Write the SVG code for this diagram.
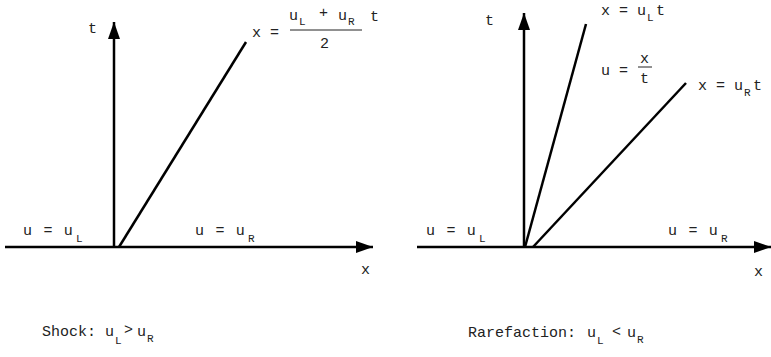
<svg xmlns="http://www.w3.org/2000/svg" width="771" height="357" viewBox="0 0 771 357">
<style>
.ln{stroke:#000;stroke-width:2.5;fill:none}
.ax{stroke:#000;stroke-width:2.5;fill:none;marker-end:url(#ah)}
text{font-family:"Liberation Mono","DejaVu Sans Mono",monospace;font-size:15px;fill:#222}
.sp{letter-spacing:1.2px}
.sub{font-size:11px}
.bar{stroke:#222;stroke-width:1}
</style>
<defs>
<marker id="ah" markerUnits="userSpaceOnUse" markerWidth="18" markerHeight="14" refX="17" refY="6" orient="auto">
<path d="M0,0 L17,6 L0,12 Z" fill="#000"/>
</marker>
</defs>
<rect width="771" height="357" fill="#fff"/>
<g id="connectors">
<line class="ax" x1="114" y1="247" x2="114" y2="22"/>
<line class="ax" x1="5" y1="247" x2="373" y2="247"/>
<line class="ln" x1="119" y1="247" x2="246" y2="42"/>
<line class="ax" x1="524" y1="247" x2="524" y2="13"/>
<line class="ax" x1="417" y1="247" x2="771" y2="247"/>
<line class="ln" x1="525" y1="247" x2="586" y2="24"/>
<line class="ln" x1="533" y1="247" x2="686" y2="83"/>
</g>
<g id="shock-labels">
<text x="88" y="33">t</text>
<text x="252" y="37">x =</text>
<text x="289" y="20">u</text><text class="sub" x="299" y="25">L</text>
<text x="319" y="17">+</text>
<text x="338" y="20">u</text><text class="sub" x="348" y="25">R</text>
<text x="370" y="21">t</text>
<line class="bar" x1="290" y1="30" x2="362" y2="30"/>
<text x="320" y="48">2</text>
<text class="sp" x="23" y="235">u = u</text><text class="sub" x="76" y="242">L</text>
<text class="sp" x="195" y="235">u = u</text><text class="sub" x="248" y="242">R</text>
<text x="361" y="274">x</text>
<text x="42" y="336">Shock:</text>
<text x="105" y="336">u</text><text class="sub" x="115" y="344">L</text>
<text x="124" y="334">&gt;</text>
<text x="137" y="336">u</text><text class="sub" x="147" y="342">R</text>
</g>
<g id="rarefaction-labels">
<text x="485" y="25">t</text>
<text x="601" y="15">x = u</text><text class="sub" x="647" y="21">L</text><text x="656" y="15">t</text>
<text x="601" y="75">u =</text>
<text x="640" y="63">x</text>
<line class="bar" x1="638" y1="67" x2="652" y2="67"/>
<text x="640" y="83">t</text>
<text x="698" y="90">x = u</text><text class="sub" x="744" y="96">R</text><text x="753" y="90">t</text>
<text class="sp" x="426" y="235">u = u</text><text class="sub" x="479" y="242">L</text>
<text class="sp" x="668" y="235">u = u</text><text class="sub" x="721" y="242">R</text>
<text x="754" y="276">x</text>
<text x="468" y="337">Rarefaction:</text>
<text x="587" y="337">u</text><text class="sub" x="597" y="344">L</text>
<text x="612" y="336">&lt;</text>
<text x="627" y="337">u</text><text class="sub" x="637" y="343">R</text>
</g>
</svg>
